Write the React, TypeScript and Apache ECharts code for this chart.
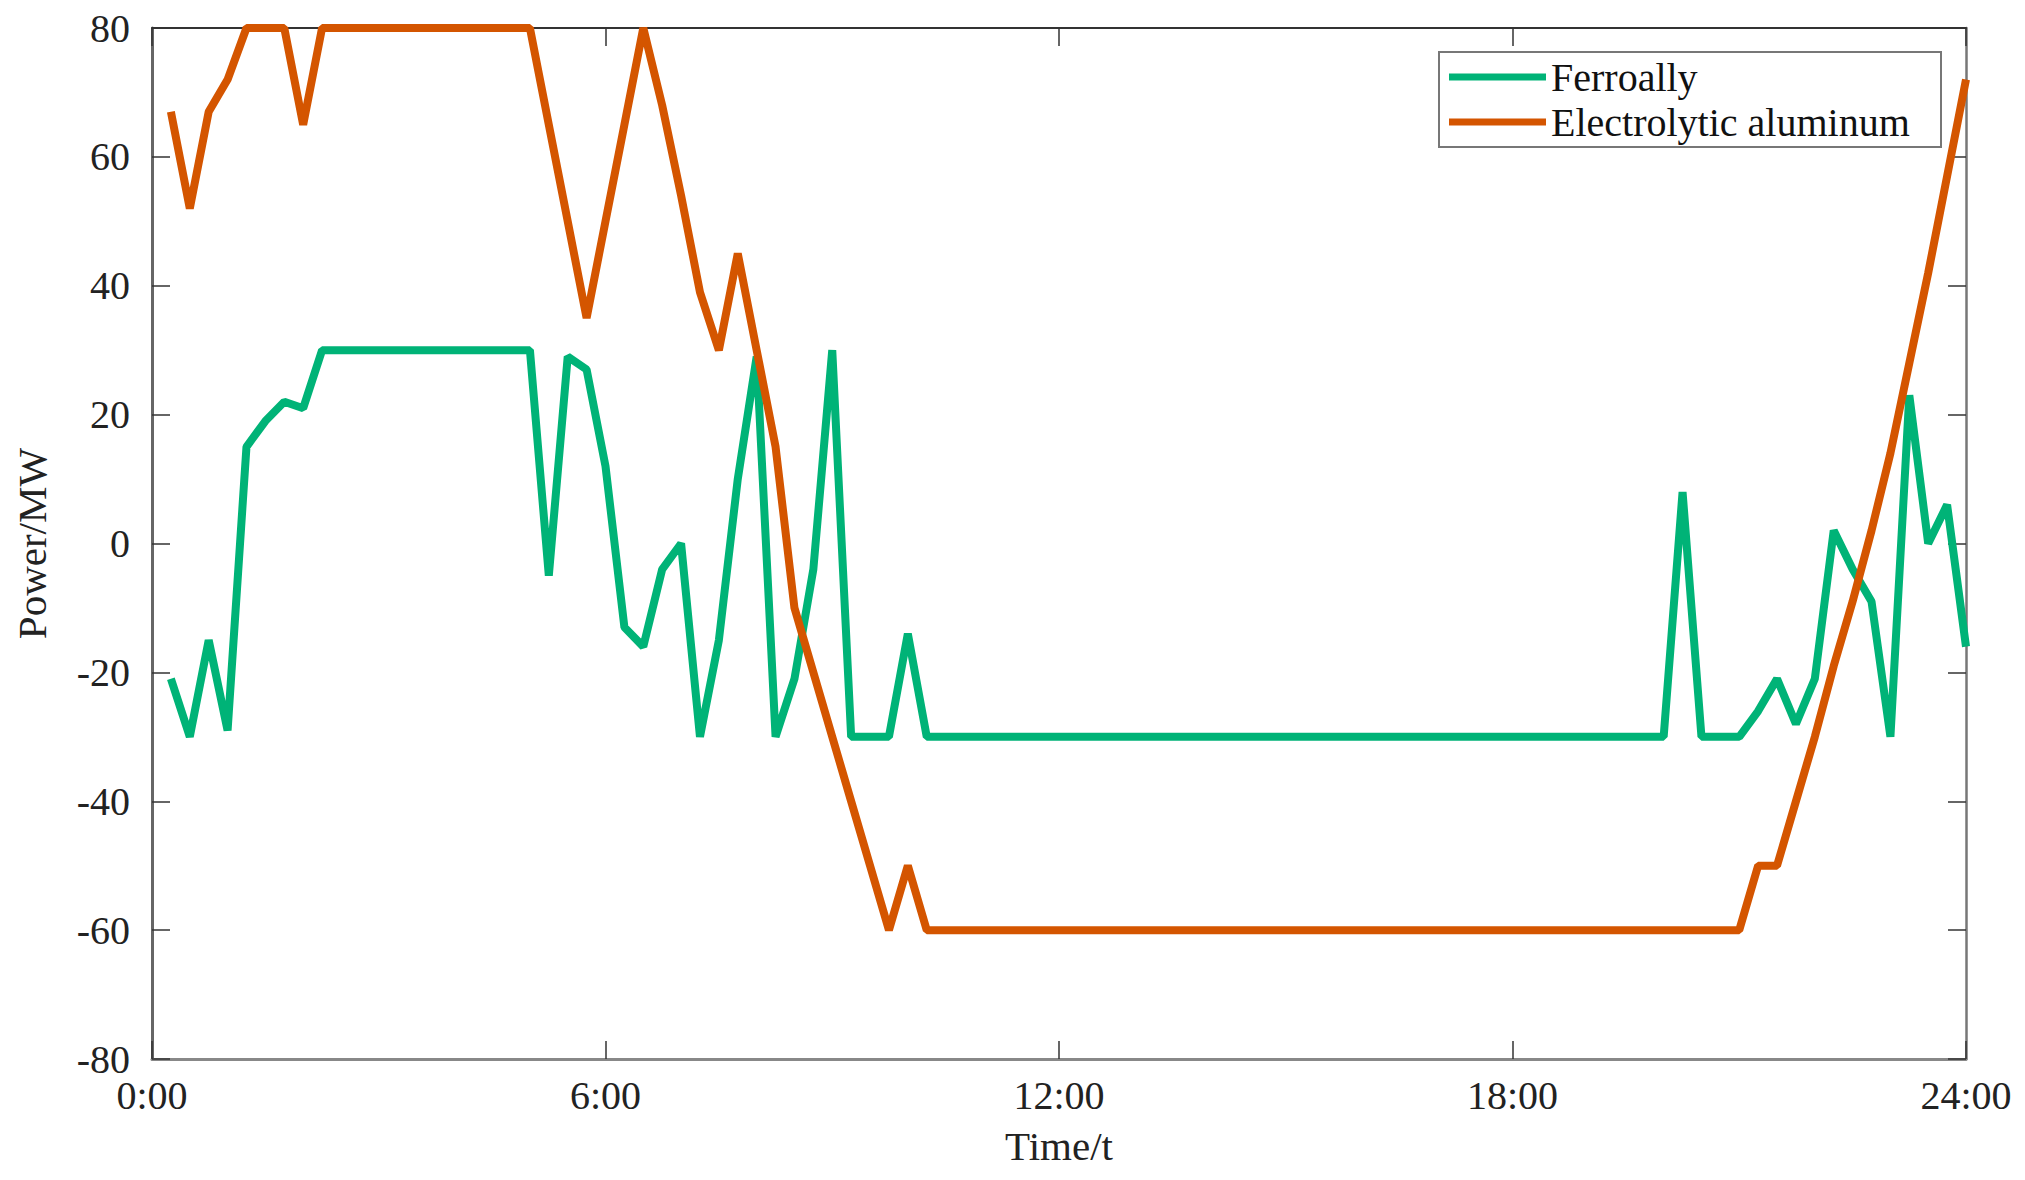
import React, { useEffect, useRef } from "react";
import * as echarts from "echarts";

// 15-minute steps, first sample at 0:15, last at 24:00
const ferroally = [
  -21, -30, -15, -29, 15, 19, 22, 21, 30, 30,
  30, 30, 30, 30, 30, 30, 30, 30, 30, 30,
  -5, 29, 27, 12, -13, -16, -4, 0, -30, -15,
  10, 29, -30, -21, -4, 30, -30, -30, -30, -14,
  -30, -30, -30, -30, -30, -30, -30, -30, -30, -30,
  -30, -30, -30, -30, -30, -30, -30, -30, -30, -30,
  -30, -30, -30, -30, -30, -30, -30, -30, -30, -30,
  -30, -30, -30, -30, -30, -30, -30, -30, -30, -30,
  8, -30, -30, -30, -26, -21, -28, -21, 2, -4,
  -9, -30, 23, 0, 6, -16,
];

const aluminum = [
  67, 52, 67, 72, 80, 80, 80, 65, 80, 80,
  80, 80, 80, 80, 80, 80, 80, 80, 80, 80,
  65, 50, 35, 50, 65, 80, 68, 54, 39, 30,
  45, 30, 15, -10, -20, -30, -40, -50, -60, -50,
  -60, -60, -60, -60, -60, -60, -60, -60, -60, -60,
  -60, -60, -60, -60, -60, -60, -60, -60, -60, -60,
  -60, -60, -60, -60, -60, -60, -60, -60, -60, -60,
  -60, -60, -60, -60, -60, -60, -60, -60, -60, -60,
  -60, -60, -60, -60, -50, -50, -40, -30, -19, -9,
  2, 14, 28, 42, 57, 72,
];

const hours = ferroally.map((_, i) => (i + 1) * 0.25);
const xTicks = [0, 6, 12, 18, 24];
const seriesNames = ["Ferroally", "Electrolytic aluminum"];
const colors = ["#00B377", "#D45500"];

const FONT = "'Liberation Serif', 'Times New Roman', serif";

export default function App() {
  const ref = useRef<HTMLDivElement>(null);

  useEffect(() => {
    if (!ref.current) return;
    const chart = echarts.init(ref.current, null, { renderer: "svg" });
    const labelStyle = { fontFamily: FONT, fontSize: 40, color: "#222" };
    const tickInside = { show: true, inside: true, length: 18, lineStyle: { color: "#333", width: 1.5 } };
    chart.setOption({
      animation: false,
      backgroundColor: "#ffffff",
      grid: { left: 152, top: 28, right: 59, bottom: 121, containLabel: false },
      xAxis: [
        {
          type: "value",
          min: xTicks[0],
          max: xTicks[xTicks.length - 1],
          interval: 6,
          position: "bottom",
          axisLine: { show: true, onZero: false, lineStyle: { color: "#888", width: 3 } },
          axisTick: tickInside,
          splitLine: { show: false },
          axisLabel: { ...labelStyle, margin: 16, formatter: (v: number) => `${v}:00` },
          name: "Time/t",
          nameLocation: "middle",
          nameGap: 66,
          nameTextStyle: { fontFamily: FONT, fontSize: 41, color: "#222" },
        },
        {
          type: "value",
          min: xTicks[0],
          max: xTicks[xTicks.length - 1],
          interval: 6,
          position: "top",
          axisLine: { show: true, onZero: false, lineStyle: { color: "#333", width: 2 } },
          axisTick: tickInside,
          splitLine: { show: false },
          axisLabel: { show: false },
        },
      ],
      yAxis: [
        {
          type: "value",
          min: -80,
          max: 80,
          interval: 20,
          position: "left",
          axisLine: { show: true, onZero: false, lineStyle: { color: "#666", width: 3 } },
          axisTick: tickInside,
          splitLine: { show: false },
          axisLabel: { ...labelStyle, margin: 22 },
          name: "Power/MW",
          nameLocation: "middle",
          nameGap: 100,
          nameRotate: 90,
          nameTextStyle: { fontFamily: FONT, fontSize: 41, color: "#222" },
        },
        {
          type: "value",
          min: -80,
          max: 80,
          interval: 20,
          position: "right",
          axisLine: { show: true, onZero: false, lineStyle: { color: "#777", width: 2.5 } },
          axisTick: tickInside,
          splitLine: { show: false },
          axisLabel: { show: false },
        },
      ],
      legend: {
        orient: "vertical",
        left: 1439,
        top: 52,
        padding: [5, 14, 5, 10],
        itemWidth: 97,
        itemHeight: 7,
        itemGap: 5,
        icon: "rect",
        z: 5,
        textStyle: { fontFamily: FONT, fontSize: 40, color: "#111" },
        data: seriesNames,
      },
      graphic: [
        {
          type: "rect",
          z: 4,
          shape: { x: 1439, y: 52, width: 502, height: 95 },
          style: { fill: "#ffffff", stroke: "#777", lineWidth: 2 },
        },
      ],
      series: [
        {
          name: seriesNames[0],
          type: "line",
          data: hours.map((h, i) => [h, ferroally[i]]),
          showSymbol: false,
          symbol: "none",
          lineStyle: { color: colors[0], width: 8 },
          itemStyle: { color: colors[0] },
          z: 2,
        },
        {
          name: seriesNames[1],
          type: "line",
          data: hours.map((h, i) => [h, aluminum[i]]),
          showSymbol: false,
          symbol: "none",
          lineStyle: { color: colors[1], width: 8 },
          itemStyle: { color: colors[1] },
          z: 3,
        },
      ],
    });
    return () => chart.dispose();
  }, []);

  return (
    <div
      ref={ref}
      style={{ position: "fixed", left: 0, top: 0, width: 2025, height: 1180, background: "#fff" }}
    />
  );
}
